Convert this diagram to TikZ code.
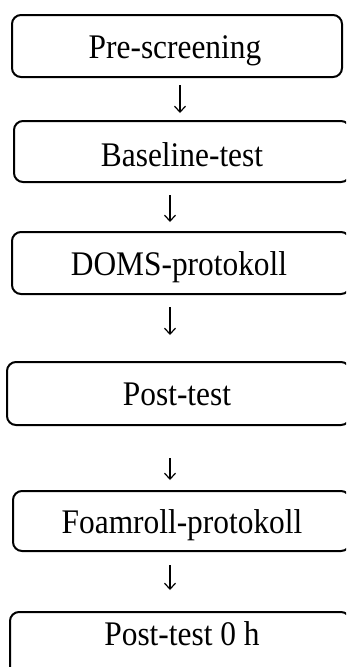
\documentclass[tikz,border=0pt]{standalone}
\usepackage{fontspec}
\setmainfont[FakeStretch=0.91]{Liberation Serif}
\usetikzlibrary{arrows.meta}
\begin{document}
\begin{tikzpicture}[x=1pt,y=-1pt,
  box/.style={draw,line width=2pt,rounded corners=9pt,rectangle,inner sep=0pt,outer sep=0pt},
  lbl/.style={anchor=base,inner sep=0pt,font=\fontsize{34.5}{40}\selectfont},
  arr/.style={line width=1.2pt,-{Straight Barb[length=6pt,width=11pt,line width=1.2pt]}}]
\useasboundingbox (0,0) rectangle (346,667);
\clip (0,0) rectangle (346,667);
% boxes
\node[box,minimum width=330pt,minimum height=62pt] (b1) at (177,46) {};
\node[box,minimum width=336pt,minimum height=61pt] (b2) at (182,151.5) {};
\node[box,minimum width=338pt,minimum height=62pt] (b3) at (181,263) {};
\node[box,minimum width=343pt,minimum height=63pt] (b4) at (178.5,393.5) {};
\node[box,minimum width=337pt,minimum height=60pt] (b5) at (181.5,521) {};
\node[box,minimum width=340pt,minimum height=68pt] (b6) at (180,646) {};
% texts
\node[lbl] (t1) at (175,58) {Pre-screening};
\node[lbl] (t2) at (182,166) {Baseline-test};
\node[lbl] (t3) at (179,275) {DOMS-protokoll};
\node[lbl] (t4) at (177,405) {Post-test};
\node[lbl] (t5) at (182,533) {Foamroll-protokoll};
\node[lbl] (t6) at (182,645) {Post-test 0 h};
% arrow ends
\coordinate (a1s) at (180,85);  \coordinate (a1e) at (180,113);
\coordinate (a2s) at (170,195); \coordinate (a2e) at (170,222);
\coordinate (a3s) at (170,307); \coordinate (a3e) at (170,335);
\coordinate (a4s) at (170,458); \coordinate (a4e) at (170,480);
\coordinate (a5s) at (170,565); \coordinate (a5e) at (170,590);
\draw[arr] (a1s) -- (a1e);
\draw[arr] (a2s) -- (a2e);
\draw[arr] (a3s) -- (a3e);
\draw[arr] (a4s) -- (a4e);
\draw[arr] (a5s) -- (a5e);
\end{tikzpicture}
\end{document}
